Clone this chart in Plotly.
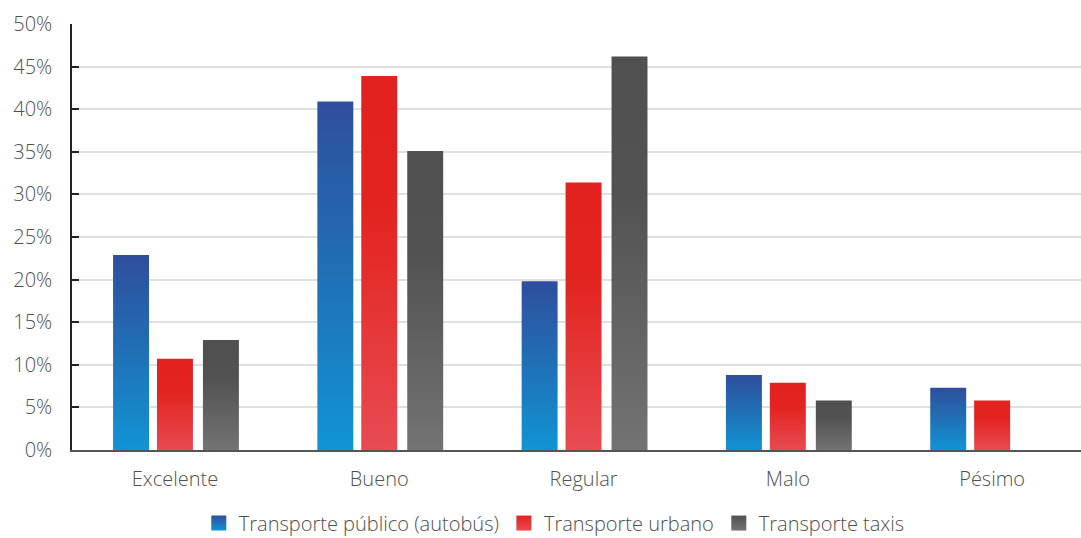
import plotly.graph_objects as go

# Survey results: rating of transport services (% of respondents)
categories = ["Excelente", "Bueno", "Regular", "Malo", "Pésimo"]
publico = [22.9, 40.9, 19.8, 8.8, 7.3]
urbano = [10.7, 43.9, 31.4, 7.9, 5.8]
taxis = [12.9, 35.1, 46.2, 5.8, None]
series_names = ["Transporte público (autobús)", "Transporte urbano", "Transporte taxis"]
y_ticks = list(range(0, 51, 5))
y_ticktext = [f"{t}%" for t in y_ticks]

# Per-series vertical gradients (bottom -> top)
gradients = [
    [[0, "#1194D4"], [0.5, "#2070B6"], [1, "#2F4E9D"]],
    [[0, "#E84B52"], [0.65, "#E3231F"], [1, "#E3221F"]],
    [[0, "#737373"], [0.65, "#525252"], [1, "#505050"]],
]
offsets = [-0.215, 0.0, 0.225]
bar_w = 0.176

fig = go.Figure()
for s, (name, vals) in enumerate(zip(series_names, [publico, urbano, taxis])):
    for i, v in enumerate(vals):
        if v is None:
            continue
        c = i + offsets[s]
        x0, x1 = c - bar_w / 2, c + bar_w / 2
        fig.add_trace(go.Scatter(
            x=[x0, x1, x1, x0, x0],
            y=[0, 0, v, v, 0],
            mode="none",
            fill="toself",
            fillcolor=gradients[s][1][1],
            fillgradient=dict(type="vertical", colorscale=gradients[s]),
            name=name,
            legendgroup=name,
            showlegend=False,
            hoverinfo="skip",
        ))
    # legend entry: gradient square
    fig.add_trace(go.Scatter(
        x=[None], y=[None],
        mode="markers",
        marker=dict(
            symbol="square",
            size=15,
            color=gradients[s][-1][1],
            gradient=dict(type="vertical", color=gradients[s][0][1]),
            line=dict(width=0),
        ),
        name=name,
        legendgroup=name,
        showlegend=True,
        hoverinfo="skip",
    ))

font_family = "Open Sans, Noto Sans, sans-serif"
fig.update_layout(
    width=1081,
    height=538,
    margin=dict(l=72, r=0, t=24, b=88, autoexpand=False),
    paper_bgcolor="white",
    plot_bgcolor="white",
    font=dict(family=font_family, size=20, color="#505050", weight=300),
    showlegend=True,
    legend=dict(
        orientation="h",
        x=0.478,
        xanchor="center",
        yref="container",
        y=0.064,
        yanchor="top",
        font=dict(size=20, color="#505050"),
        itemwidth=30,
        tracegroupgap=0,
    ),
    xaxis=dict(
        range=[-0.504, 4.435],
        tickvals=list(range(len(categories))),
        ticktext=categories,
        showgrid=False,
        zeroline=False,
        showline=True,
        linecolor="#555555",
        linewidth=2,
        ticks="",
        ticklabelstandoff=10,
        fixedrange=True,
    ),
    yaxis=dict(
        range=[0, 50],
        tickvals=y_ticks,
        ticktext=y_ticktext,
        showgrid=True,
        gridcolor="#e0e0e0",
        gridwidth=2,
        zeroline=False,
        showline=True,
        linecolor="#222222",
        linewidth=1.5,
        ticks="inside",
        ticklen=7,
        tickwidth=1.5,
        tickcolor="#222222",
        ticklabelstandoff=14,
        fixedrange=True,
    ),
)

fig.write_html("out.html")
